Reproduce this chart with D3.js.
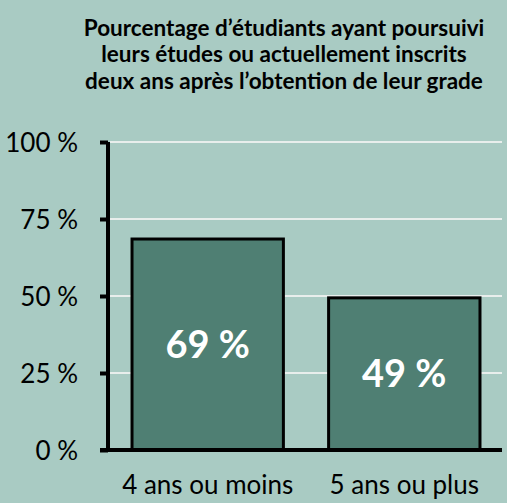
<!DOCTYPE html>
<html><head><meta charset="utf-8">
<script src="https://cdn.jsdelivr.net/npm/d3@7"></script>
<style>html,body{margin:0;padding:0;background:#a9cbc3;}svg{display:block;}</style>
</head><body>
<script>
const categories = ["4 ans ou moins", "5 ans ou plus"];
const values = [68.5, 49.4];
const valueLabels = ["69 %", "49 %"];
const tickValues = [0, 25, 50, 75, 100];
const titleLines = ["Pourcentage d\u2019étudiants ayant poursuivi", "leurs études ou actuellement inscrits", "deux ans après l\u2019obtention de leur grade"];

const W = 507, H = 503;
const font = "Lato, 'Open Sans', sans-serif";
const svg = d3.select("body").append("svg").attr("width", W).attr("height", H);
svg.append("rect").attr("width", W).attr("height", H).attr("fill", "#a9cbc3");

const y = d3.scaleLinear().domain([0, 100]).range([450, 142]);
const x = d3.scaleBand().domain(categories).range([110, 502]).paddingInner(0.23).paddingOuter(0.112);

// gridlines
svg.append("g").selectAll("line").data(tickValues.filter(d => d > 0)).join("line")
  .attr("x1", 110).attr("x2", 502).attr("y1", d => y(d)).attr("y2", d => y(d))
  .attr("stroke", "#e8eeec").attr("stroke-width", 2);

// bars
svg.append("g").selectAll("rect").data(values).join("rect")
  .attr("x", (d, i) => x(categories[i]))
  .attr("width", x.bandwidth())
  .attr("y", d => y(d))
  .attr("height", d => y(0) - y(d))
  .attr("fill", "#4f7f73").attr("stroke", "#000").attr("stroke-width", 3);

// y axis
const yAxis = d3.axisLeft(y).tickValues(tickValues).tickFormat(d => d + " %").tickSize(8).tickPadding(22);
const gy = svg.append("g").attr("transform", "translate(108,0)").call(yAxis);
gy.select(".domain").attr("d", `M0,${y(100)}V${y(0)}`).attr("stroke", "#000").attr("stroke-width", 4);
gy.selectAll(".tick line").attr("stroke", "#000").attr("stroke-width", 4);
gy.selectAll(".tick text").attr("font-family", font).attr("font-size", 26).attr("fill", "#000").attr("dy", "0.36em");

// x axis
const xAxis = d3.axisBottom(x).tickSize(0).tickPadding(26);
const gx = svg.append("g").attr("transform", `translate(0,${y(0)})`).call(xAxis);
gx.select(".domain").attr("d", `M100,0H502`).attr("stroke", "#000").attr("stroke-width", 4);
gx.selectAll(".tick text").attr("font-family", font).attr("font-size", 26).attr("fill", "#000");

// bar labels
svg.append("g").selectAll("text").data(values).join("text")
  .attr("x", (d, i) => x(categories[i]) + x.bandwidth() / 2)
  .attr("y", d => (y(d) + y(0)) / 2 + 13)
  .attr("text-anchor", "middle")
  .attr("font-family", font).attr("font-weight", "bold").attr("font-size", 38).attr("fill", "#fff")
  .text((d, i) => valueLabels[i]);

// title
svg.append("g").selectAll("text").data(titleLines).join("text")
  .attr("x", 284).attr("y", (d, i) => 36 + i * 26.3)
  .attr("text-anchor", "middle")
  .attr("font-family", font).attr("font-weight", "bold").attr("font-size", 22.5).attr("fill", "#000")
  .text(d => d);
</script>
</body></html>
